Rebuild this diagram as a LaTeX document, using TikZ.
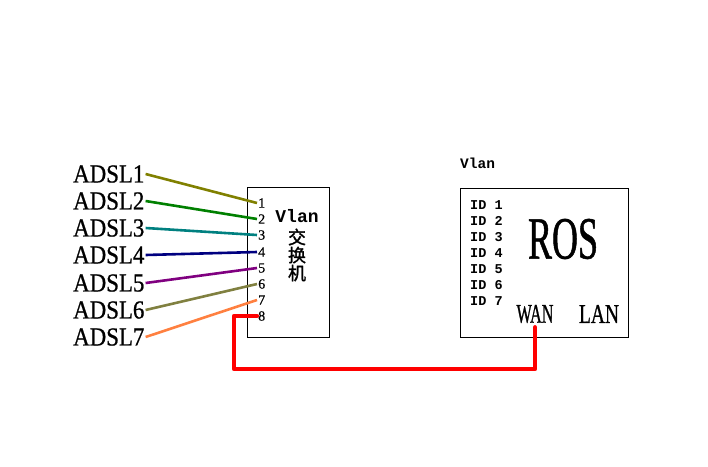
\documentclass[tikz,border=0pt]{standalone}
\usepackage{fontspec}
\usepackage{xcolor}
\usepackage{tikz}
\usetikzlibrary{calc,positioning}
\setmainfont{Liberation Serif}
\newfontfamily\adslfont[FakeStretch=0.88,FakeBold=0.8]{Liberation Serif}
\newfontfamily\narrowfont[FakeStretch=0.6,FakeBold=0.8]{Liberation Serif}
\newfontfamily\lanfont[FakeStretch=0.72,FakeBold=0.8]{Liberation Serif}
\newfontfamily\portfont{Liberation Mono}
\newfontfamily\digitfont[FakeBold=0.6]{Liberation Serif}
\newfontfamily\cjkfont[FakeBold=1.5]{Noto Sans CJK SC}
\definecolor{lineolive}{HTML}{808000}
\definecolor{linegreen}{HTML}{008000}
\definecolor{lineteal}{HTML}{008080}
\definecolor{linenavy}{HTML}{000080}
\definecolor{linepurple}{HTML}{800080}
\definecolor{linekhaki}{HTML}{808040}
\definecolor{lineorange}{HTML}{FF8040}
\definecolor{cablered}{HTML}{FF0000}
\tikzset{
  devbox/.style={draw=black, line width=0.9pt, inner sep=0pt},
  adsllabel/.style={anchor=west, inner sep=1pt, font=\adslfont\fontsize{26}{26}\selectfont},
  portnum/.style={anchor=west, inner sep=1pt, font=\digitfont\fontsize{14}{14}\selectfont},
  idlabel/.style={anchor=west, inner sep=0pt, font=\portfont\bfseries\fontsize{13.5}{13.5}\selectfont},
  wire/.style={line width=2.6pt},
  cable/.style={cablered, line width=4.5pt, line join=round, line cap=round}
}

\begin{document}
\begin{tikzpicture}[x=1pt, y=-1pt]
  \useasboundingbox (0,0) rectangle (708,466);
  % switch and router boxes
  \node[devbox, minimum width=82pt, minimum height=150pt] (switch) at (288,262) {};
  \node[devbox, minimum width=168pt, minimum height=149pt] (ros) at (544,262.5) {};
  \node[font=\portfont\bfseries\fontsize{14.5}{14.5}\selectfont, anchor=west, inner sep=0pt] (vlantop) at (460,163) {Vlan};
  \node[font=\portfont\bfseries\fontsize{18}{18}\selectfont, inner sep=0pt] (vlan) at (297,216) {Vlan};
  \node[font=\cjkfont\fontsize{18}{18}\selectfont, align=center, inner sep=0pt] (jhj) at (297,255) {交\\换\\机};
  % ADSL lines
  \foreach \i/\y in {1/174,2/201,3/228,4/255,5/283,6/310,7/337}{
    \node[adsllabel] (adsl\i) at (72,\y) {ADSL\i};
  }
  \foreach \i/\y in {1/203,2/219,3/235,4/252,5/268,6/284,7/300,8/316}{
    \node[portnum] (p\i) at (257,\y) {\i};
  }
  \foreach \i/\c in {1/lineolive,2/linegreen,3/lineteal,4/linenavy,5/linepurple,6/linekhaki,7/lineorange}{
    \draw[wire, \c] (adsl\i.east) -- (p\i.west);
  }
  % router side
  \foreach \i in {1,...,7}{
    \node[idlabel] (id\i) at (470,{205+16*(\i-1)}) {ID \i};
  }
  \node[font=\narrowfont\fontsize{60}{60}\selectfont, inner sep=0pt] (rostext) at (563,239) {ROS};
  \node[font=\narrowfont\fontsize{27}{27}\selectfont, inner sep=0pt] (wan) at (535,314) {WAN};
  \node[font=\lanfont\fontsize{27}{27}\selectfont, inner sep=0pt] (lan) at (599,314) {LAN};
  \coordinate (bend) at (234,369);
  \draw[cable] (p8.west) -| (bend) -| ($(wan.south)+(0,4)$);
\end{tikzpicture}
\end{document}
